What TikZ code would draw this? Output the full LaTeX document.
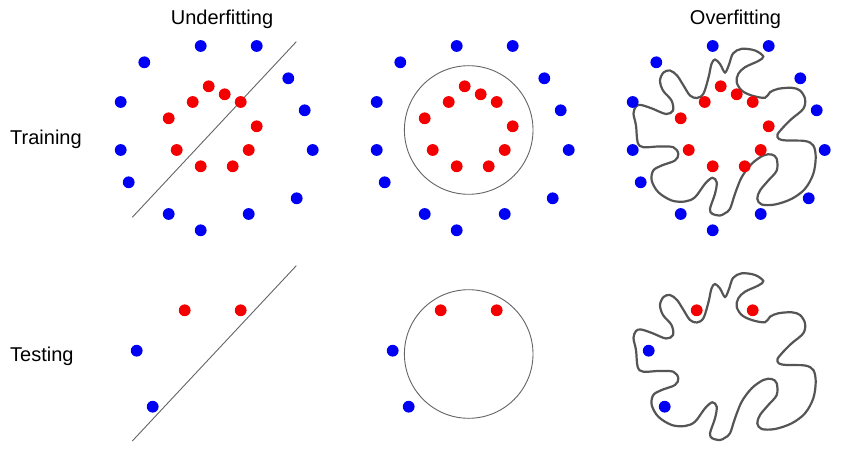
\documentclass[tikz,border=0pt]{standalone}
\usepackage{fontspec}
\setmainfont{Liberation Sans}
\definecolor{dotblue}{RGB}{0,0,245}
\definecolor{dotred}{RGB}{245,0,0}
\definecolor{linegray}{RGB}{100,100,100}
\definecolor{curvegray}{RGB}{85,85,85}
\def\trainblue{200.7/46,256.7/46,144.3/62.3,288.3/78.3,120.7/102,304.7/110.3,120.7/150,312.7/150,128.7/182.3,296.7/198.3,168.7/214,248.7/214,200.7/230.3}
\def\trainred{208.7/86.3,224.7/94.3,192.7/102,240.7/102,168.7/118.3,256.7/126.3,176.7/150,248.7/150,200.7/166.3,232.7/166.3}
\def\testblue{136.7/350.7,152.7/406.7}
\def\testred{184.7/310.3,240.7/310.3}
\def\wigglepath{
  plot[smooth cycle,tension=0.55] coordinates {
  (636,350) (633.5,338) (636,331) (641,329.5) (652,333) (666,338.5) (673,335) (671.5,325)
  (663,315) (660,305) (663.5,297) (670,295) (677,300) (683.5,310) (690,320) (697,322.5)
  (703.5,318) (708.5,302) (711.5,288.5) (715,284) (720,288.5) (725,297) (729,289) (733,278)
  (741.7,273.3) (755,275) (763.3,281) (758.3,285.5) (745,291.7) (738.3,298.3) (736.7,306.7)
  (741.7,315) (751.7,320) (765,322.3) (770,316.7) (778.3,313.3) (791.7,312.3) (800,315)
  (805,323.3) (803.3,333.3) (791.7,343.3) (783.3,351.7) (777.5,359) (779,363.5) (786.7,365)
  (805,365.5) (813.3,370) (815.7,381.7) (813.3,398.3) (805,413.3) (791.7,423.3) (775,429)
  (761.7,429) (757.3,423.3) (760,415) (768.3,405) (776.7,395) (776.7,383.3) (771.7,379)
  (763.3,380) (751.7,388.3) (741.7,401.7) (735,418.3) (730,433.3) (725,437.7) (720,440)
  (712.3,438.3) (710,433.3) (715,418.3) (716.7,406.7) (712.3,402.3) (705,408.3) (695,421.7)
  (685,426) (671.7,425) (658.3,416.7) (651.7,405) (653.3,395) (661.7,390) (675,385)
  (678.3,378.3) (673.3,371.7) (658.3,371) (643.3,371.7) (637.7,367)}}
\begin{document}
\begin{tikzpicture}[x=1pt,y=-1pt,
  bdot/.style={circle,fill=dotblue,inner sep=0pt,minimum size=11.8pt},
  rdot/.style={circle,fill=dotred,inner sep=0pt,minimum size=11.8pt},
  boundary/.style={draw=linegray,line width=0.9pt},
  wiggle/.style={draw=curvegray,line width=2.2pt},
  lbl/.style={font=\fontsize{20}{24}\selectfont}]
\useasboundingbox[fill=white] (0,0) rectangle (845,454);

% titles and row labels
\node[lbl,anchor=base] (under) at (222,25) {Underfitting};
\node[lbl,anchor=base] (over) at (735.5,25) {Overfitting};
\node[lbl,anchor=base west,inner sep=0pt] (train) at (10,145) {Training};
\node[lbl,anchor=base west,inner sep=0pt] (test) at (10,361) {Testing};

% decision boundaries
\coordinate (uA) at (132.3,217.3);
\coordinate (uB) at (296.3,41.7);
\coordinate (uC) at (132.3,441);
\coordinate (uD) at (296.3,265.7);
\draw[boundary] (uA) -- (uB);
\draw[boundary] (uC) -- (uD);
\node[boundary,circle,minimum size=128.6pt,inner sep=0pt] (gcirc1) at (468.7,130) {};
\node[boundary,circle,minimum size=128.6pt,inner sep=0pt] (gcirc2) at (468.7,354) {};
\begin{scope}[shift={(0,-224.5)}]
  \draw[wiggle] \wigglepath;
\end{scope}
\draw[wiggle] \wigglepath;

% data points
\foreach \pan/\dx in {U/0,G/256,O/512}{
  \begin{scope}[shift={(\dx,0)}]
    \foreach \x/\y [count=\i] in \trainblue
      \node[bdot] (tr\pan b\i) at (\x,\y) {};
    \foreach \x/\y [count=\i] in \trainred
      \node[rdot] (tr\pan r\i) at (\x,\y) {};
    \foreach \x/\y [count=\i] in \testblue
      \node[bdot] (te\pan b\i) at (\x,\y) {};
    \foreach \x/\y [count=\i] in \testred
      \node[rdot] (te\pan r\i) at (\x,\y) {};
  \end{scope}
}
\end{tikzpicture}
\end{document}
